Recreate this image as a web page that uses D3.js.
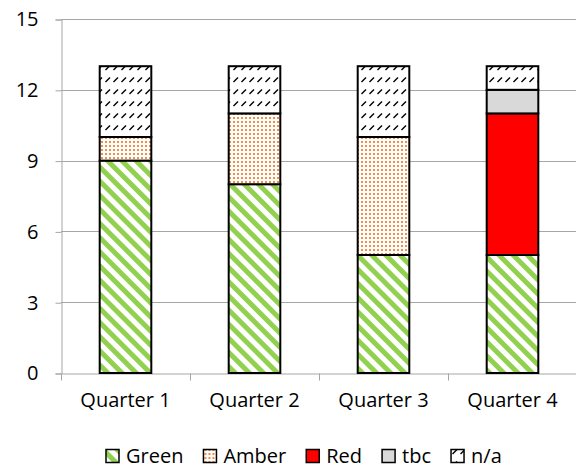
<!DOCTYPE html>
<html>
<head>
<meta charset="utf-8">
<style>
  body { margin: 0; background: #fff; }
  text { font-family: "Open Sans", "Noto Sans", sans-serif; fill: #000; }
</style>
</head>
<body>
<div id="chart"></div>
<script src="https://cdn.jsdelivr.net/npm/d3@7"></script>
<script>
// data
const quarters = ["Quarter 1", "Quarter 2", "Quarter 3", "Quarter 4"];
const statuses = ["Green", "Amber", "Red", "tbc", "n/a"];
const green = [9, 8, 5, 5];
const amber = [1, 3, 5, 0];
const red   = [0, 0, 0, 6];
const tbc   = [0, 0, 0, 1];
const na    = [3, 2, 3, 1];
const yTicks = [0, 3, 6, 9, 12, 15];

const W = 576, H = 470;
const margin = { top: 19, right: 0, bottom: 97, left: 61 };

const rows = quarters.map((q, i) => ({
  quarter: q, "Green": green[i], "Amber": amber[i], "Red": red[i], "tbc": tbc[i], "n/a": na[i]
}));
const stacked = d3.stack().keys(statuses)(rows);

const svg = d3.select("#chart").append("svg")
  .attr("width", W).attr("height", H);

// fill patterns
const defs = svg.append("defs");
const pGreen = defs.append("pattern").attr("id", "p-green")
  .attr("patternUnits", "userSpaceOnUse").attr("width", 10).attr("height", 10)
  .attr("patternTransform", "rotate(-45)");
pGreen.append("rect").attr("width", 10).attr("height", 10).attr("fill", "#fff");
pGreen.append("rect").attr("width", 5).attr("height", 10).attr("fill", "#92d050");

const pAmber = defs.append("pattern").attr("id", "p-amber")
  .attr("patternUnits", "userSpaceOnUse").attr("width", 4).attr("height", 4);
pAmber.append("rect").attr("width", 4).attr("height", 4).attr("fill", "#fff");
pAmber.append("rect").attr("x", 1).attr("y", 1).attr("width", 2).attr("height", 2).attr("fill", "#f58b3c");

const pNa = defs.append("pattern").attr("id", "p-na")
  .attr("patternUnits", "userSpaceOnUse").attr("width", 8).attr("height", 12);
pNa.append("rect").attr("width", 8).attr("height", 12).attr("fill", "#fff");
pNa.append("line").attr("x1", 1.5).attr("y1", 10).attr("x2", 6).attr("y2", 5.5)
  .attr("stroke", "#000").attr("stroke-width", 1.5);

const fills = {
  "Green": "url(#p-green)",
  "Amber": "url(#p-amber)",
  "Red": "#ff0000",
  "tbc": "#d9d9d9",
  "n/a": "url(#p-na)"
};

const x = d3.scaleBand().domain(quarters)
  .range([margin.left, W - margin.right + 1]).padding(0);
const y = d3.scaleLinear().domain([0, 15])
  .range([H - margin.bottom - 0, margin.top]);
const barW = x.bandwidth() * 0.4;

// gridlines
svg.append("g")
  .selectAll("line").data(yTicks.filter(d => d > 0)).join("line")
  .attr("x1", margin.left).attr("x2", W)
  .attr("y1", d => Math.round(y(d)) + 0.5).attr("y2", d => Math.round(y(d)) + 0.5)
  .attr("stroke", "#a6a6a6").attr("stroke-width", 1);

// y axis
const yAxis = svg.append("g")
  .attr("transform", "translate(" + (margin.left + 0.5) + ",0.5)")
  .call(d3.axisLeft(y).tickValues(yTicks).tickSize(6).tickPadding(17));
yAxis.select(".domain").attr("stroke", "#a6a6a6");
yAxis.selectAll(".tick line").attr("stroke", "#a6a6a6");
yAxis.selectAll(".tick text").style("font-size", "20px").attr("fill", "#000");

// x axis
const xAxis = svg.append("g")
  .attr("transform", "translate(0," + (Math.round(y(0)) + 0.5) + ")")
  .call(d3.axisBottom(x).tickSize(0).tickPadding(19));
xAxis.select(".domain").attr("stroke", "#a6a6a6");
xAxis.selectAll(".tick text").style("font-size", "20px").attr("fill", "#000")
  .attr("dy", "0.71em");
xAxis.selectAll(".sep").data(quarters.map(q => x(q)).concat([x.range()[1] - 1]))
  .join("line").attr("class", "sep")
  .attr("x1", d => Math.round(d) + 0.5).attr("x2", d => Math.round(d) + 0.5)
  .attr("y1", 0).attr("y2", 7)
  .attr("stroke", "#a6a6a6");

// bars
const layer = svg.append("g").selectAll("g").data(stacked).join("g")
  .attr("fill", d => fills[d.key]);
layer.selectAll("rect").data(d => d.filter(s => s[1] - s[0] > 0)).join("rect")
  .attr("x", d => x(d.data.quarter) + (x.bandwidth() - barW) / 2)
  .attr("width", barW)
  .attr("y", d => y(d[1]))
  .attr("height", d => y(d[0]) - y(d[1]))
  .attr("stroke", "#000").attr("stroke-width", 2);

// legend
const legend = svg.append("g");
const items = legend.selectAll("g").data(statuses).join("g");
items.append("rect")
  .attr("x", 0).attr("y", -6.5).attr("width", 13).attr("height", 13)
  .attr("fill", d => fills[d]).attr("stroke", "#000").attr("stroke-width", 1.5);
items.append("text")
  .attr("x", 20).attr("dy", "0.35em")
  .style("font-size", "20px")
  .text(d => d);
let pos = 0;
items.each(function () {
  d3.select(this).attr("transform", "translate(" + pos + ",0)");
  pos += 20 + this.querySelector("text").getComputedTextLength() + 20;
});
legend.attr("transform", "translate(106,456)");
</script>
</body>
</html>
